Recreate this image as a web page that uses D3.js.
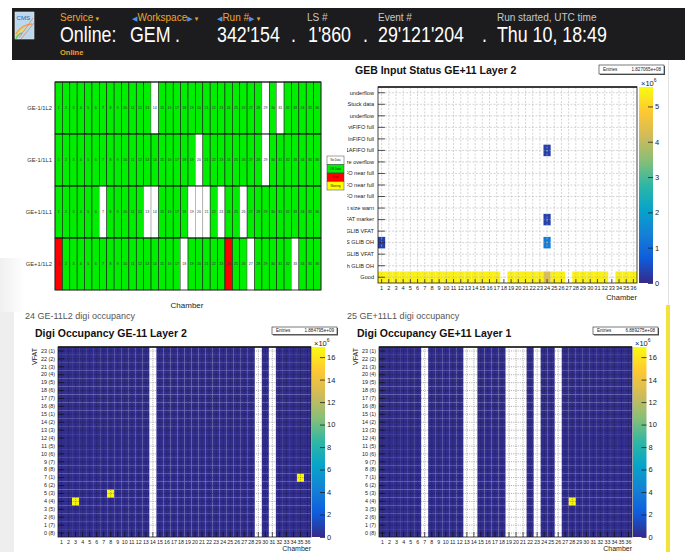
<!DOCTYPE html>
<html>
<head>
<meta charset="utf-8">
<script src="https://cdn.jsdelivr.net/npm/d3@7"></script>
<style>
  html, body { margin: 0; padding: 0; background: #fff; }
  svg { display: block; font-family: "Liberation Sans", Arial, Helvetica, sans-serif; }
</style>
</head>
<body>
<svg id="page" width="685" height="552"></svg>
<script>
// ---------------- data ----------------
const chambers = d3.range(1, 37);

// run header
const headerLabels = ["Service", "Workspace", "Run #", "LS #", "Event #", "Run started, UTC time"];
const headerValues = ["Online:", "GEM", "342'154", "1'860", "29'121'204", "Thu 10, 18:49"];

// chamber status summary: 1 = OK data, 0 = no data, 2 = error, 3 = warning
const statusRows = ["GE-1/1L2", "GE-1/1L1", "GE+1/1L1", "GE+1/1L2"];
const statusGEm11L2 = [1,1,1,1,1,1,1,1,1,1,1,1,1,0,1,1,1,1,1,1,1,1,1,1,1,1,1,1,0,1,0,1,1,1,1,1];
const statusGEm11L1 = [1,1,1,1,1,1,1,1,1,1,1,1,1,1,1,1,1,1,1,0,1,1,1,1,1,1,1,1,0,1,1,1,1,1,1,1];
const statusGEp11L1 = [1,1,1,1,1,1,0,1,1,1,1,1,0,0,1,1,1,1,0,0,0,1,0,1,1,0,1,1,1,1,1,1,1,1,1,1];
const statusGEp11L2 = [2,1,1,1,1,1,1,1,1,1,1,1,1,1,1,1,1,0,1,1,1,1,1,2,1,1,0,1,1,1,1,1,0,1,1,1];
const statusLegend = ["No Data", "OK Data", "Error", "Warning"];

// GEB input status, GE+11 layer 2 (values in units of 10^6)
const gebLabels = ["Good", "BX mismatch GLIB OH", "BX mismatch GLIB VFAT", "OOS GLIB OH", "OOS GLIB VFAT",
  "No VFAT marker", "Event size warn", "L1AFIFO near full", "InFIFO near full", "EvtFIFO near full",
  "Event size overflow", "L1AFIFO full", "InFIFO full", "EvtFIFO full", "Input FIFO underflow",
  "Stuck data", "FIFO underflow"];
const gebGood = [5.4,5.4,5.4,5.4,5.4,5.4,5.4,5.4,5.4,5.4,5.4,5.4,5.4,5.4,5.4,5.4,5.4,0,
                 5.4,5.4,5.4,5.4,5.4,4.3,5.4,5.4,0,5.4,5.4,5.4,5.4,5.4,0,5.4,5.4,5.4];
const gebErrChamber = [1, 24, 24, 24];
const gebErrStatus  = ["OOS GLIB OH", "L1AFIFO full", "No VFAT marker", "OOS GLIB OH"];
const gebErrValue   = [0.3, 0.3, 0.3, 1.3];
const gebEntries = "1.827065e+08";
const gebTicks = [0, 1, 2, 3, 4, 5];

// digi occupancy per VFAT (values in units of 10^6)
const vfatLabels = ["0 (8)","1 (7)","2 (6)","3 (5)","4 (4)","5 (3)","6 (2)","7 (1)",
                    "8 (8)","9 (7)","10 (6)","11 (5)","12 (4)","13 (3)","14 (2)","15 (1)",
                    "16 (8)","17 (7)","18 (6)","19 (5)","20 (4)","21 (3)","22 (2)","23 (1)"];
const occGEm11L2 = [0.15,0.15,0.15,0.15,0.15,0.15,0.15,0.15,0.15,0.15,0.15,0.15,0.15,0,0.15,0.15,0.15,0.15,
                    0.15,0.15,0.15,0.15,0.15,0.15,0.15,0.15,0.15,0.15,0,0.15,0,0.15,0.15,0.15,0.15,0.15];
const hotGEm11L2Chamber = [3, 8, 35];
const hotGEm11L2Vfat    = [4, 5, 7];
const hotGEm11L2Value   = [16.6, 16.6, 16.6];
const occGEp11L1 = [0.15,0.15,0.15,0.15,0.15,0.15,0,0.15,0.15,0.15,0.15,0.15,0,0,0.15,0.15,0.15,0.15,
                    0,0,0,0.15,0,0.15,0.15,0,0.15,0.15,0.15,0.15,0.15,0.15,0.15,0.15,0.15,0.15];
const hotGEp11L1Chamber = [28];
const hotGEp11L1Vfat    = [4];
const hotGEp11L1Value   = [16.6];
const occTicks = [0, 2, 4, 6, 8, 10, 12, 14, 16];
const occEntriesGEm11L2 = "1.884795e+09";
const occEntriesGEp11L1 = "6.889275e+08";

// ---------------- drawing ----------------
const W = 685, H = 552;
const svg = d3.select("#page");
const defs = svg.append("defs");

// ROOT "bird" palette
const birdStops = [0, .125, .25, .375, .5, .625, .75, .875, 1];
const birdR = [0.2082, 0.0592, 0.0780, 0.0232, 0.1802, 0.5301, 0.8186, 0.9956, 0.9764];
const birdG = [0.1664, 0.3599, 0.5041, 0.6419, 0.7178, 0.7492, 0.7328, 0.7862, 0.9832];
const birdB = [0.5293, 0.8684, 0.8385, 0.7914, 0.6425, 0.4662, 0.3499, 0.1968, 0.0539];
const birdColors = birdStops.map((s, i) => d3.rgb(birdR[i] * 255, birdG[i] * 255, birdB[i] * 255).formatHex());
const bird = d3.scaleLinear().domain(birdStops).range(birdColors).interpolate(d3.interpolateRgb).clamp(true);

const grad = defs.append("linearGradient").attr("id", "birdGrad")
  .attr("x1", 0).attr("y1", 1).attr("x2", 0).attr("y2", 0);
grad.selectAll("stop").data(birdStops).join("stop")
  .attr("offset", d => d).attr("stop-color", (d, i) => birdColors[i]);

// page side decorations
const shade = defs.append("linearGradient").attr("id", "shade").attr("x1", 0).attr("y1", 0).attr("x2", 1).attr("y2", 0);
shade.append("stop").attr("offset", 0).attr("stop-color", "#ececec");
shade.append("stop").attr("offset", 1).attr("stop-color", "#ffffff");
svg.append("rect").attr("x", 0).attr("y", 258).attr("width", 26).attr("height", 54).attr("fill", "url(#shade)").attr("opacity", 0.8);
svg.append("rect").attr("x", 0).attr("y", 312).attr("width", 14).attr("height", 240).attr("fill", "#eeeeee");
svg.append("line").attr("x1", 668.5).attr("x2", 668.5).attr("y1", 60).attr("y2", 305).attr("stroke", "#e2e2e2");
svg.append("rect").attr("x", 666).attr("y", 305).attr("width", 4).attr("height", 247).attr("fill", "#f4e23c");

// ---------- header bar ----------
const header = svg.append("g");
header.append("rect").attr("x", 12).attr("y", 8).attr("width", W - 12).attr("height", 52).attr("fill", "#1c1c1e");

const logo = header.append("g").attr("transform", "translate(15,12)");
logo.append("rect").attr("width", 19).attr("height", 27).attr("fill", "#bcd8ec").attr("stroke", "#e6e6e6").attr("stroke-width", 0.6);
logo.append("path").attr("d", "M1,22 A20,20 0 0 1 17,12").attr("fill", "none").attr("stroke", "#f0a438").attr("stroke-width", 1.6);
logo.append("path").attr("d", "M1,25 A14,14 0 0 1 12,17").attr("fill", "none").attr("stroke", "#f4dc46").attr("stroke-width", 1.6);
logo.append("path").attr("d", "M1,27 A9,9 0 0 1 7,21").attr("fill", "none").attr("stroke", "#6cc36a").attr("stroke-width", 1.6);
logo.append("path").attr("d", "M4,26 L18,6 M6,27 L19,11").attr("stroke", "#e06a50").attr("stroke-width", 0.6);
logo.append("text").attr("x", 1.5).attr("y", 7.5).attr("font-size", 6.2).attr("fill", "#2f5fb0").text("CMS");

const labelX = [60, 132, 217, 307, 378, 497];
const navigable = [false, true, true, false, false, false];
const selectable = [true, true, true, false, false, false];
headerLabels.forEach((lab, i) => {
  const t = header.append("text").attr("x", labelX[i]).attr("y", 21).attr("font-size", 10);
  if (selectable[i]) {
    if (navigable[i]) t.append("tspan").attr("fill", "#4f92e3").attr("font-size", 7).attr("font-family", "DejaVu Sans").text("\u25C0");
    t.append("tspan").attr("fill", "#eca52c").text(lab);
    if (navigable[i]) t.append("tspan").attr("fill", "#4f92e3").attr("font-size", 7).attr("font-family", "DejaVu Sans").text("\u25B6");
    t.append("tspan").attr("fill", "#eca52c").attr("font-size", 7).attr("font-family", "DejaVu Sans").text(" \u25BE");
  } else {
    t.attr("fill", "#c8c8c8").text(lab);
  }
});
// large condensed run values
const valueX = [60, 130, 217, 308, 378, 497];
headerValues.forEach((v, i) => {
  header.append("text").attr("transform", `translate(${valueX[i]},42) scale(0.81,1)`)
    .attr("font-size", 22).attr("fill", "#ffffff").text(v);
});
[175, 291, 363, 482].forEach(x => {
  header.append("text").attr("transform", `translate(${x},42) scale(0.81,1)`)
    .attr("font-size", 22).attr("fill", "#ffffff").text(".");
});
header.append("text").attr("x", 60).attr("y", 55).attr("font-size", 7.5).attr("font-weight", "bold")
  .attr("fill", "#eca52c").text("Online");

// ---------- chamber status summary ----------
const statusData = [statusGEm11L2, statusGEm11L1, statusGEp11L1, statusGEp11L2];
const statusFill = ["#ffffff", "#00ee00", "#ff0000", "#ffff00"];
const sx = d3.scaleBand().domain(chambers).range([55, 321]);
const sy = d3.scaleBand().domain(statusRows).range([82, 290]);
const statusCells = [];
statusRows.forEach((r, ri) => chambers.forEach((c, ci) => statusCells.push({ row: r, chamber: c, s: statusData[ri][ci] })));
const sg = svg.append("g");
sg.selectAll("rect").data(statusCells).join("rect")
  .attr("x", d => sx(d.chamber)).attr("y", d => sy(d.row))
  .attr("width", sx.bandwidth()).attr("height", sy.bandwidth())
  .attr("fill", d => statusFill[d.s])
  .attr("stroke", d => d.s === 0 ? "#9a9a9a" : "#1b1b1b").attr("stroke-width", 0.6);
sg.selectAll("line.rowsep").data(statusRows).join("line")
  .attr("x1", 55).attr("x2", 321).attr("y1", d => sy(d)).attr("y2", d => sy(d))
  .attr("stroke", "#111").attr("stroke-width", 0.9);
sg.append("rect").attr("x", 55).attr("y", 82).attr("width", 266).attr("height", 208)
  .attr("fill", "none").attr("stroke", "#333").attr("stroke-width", 0.8);
sg.selectAll("text.num").data(statusCells).join("text")
  .attr("x", d => sx(d.chamber) + sx.bandwidth() / 2).attr("y", d => sy(d.row) + sy.bandwidth() / 2 + 1.3)
  .attr("text-anchor", "middle").attr("font-size", 3.6).attr("fill", "#333").text(d => d.chamber);
sg.selectAll("text.row").data(statusRows).join("text")
  .attr("x", 52).attr("y", d => sy(d) + sy.bandwidth() / 2 + 2)
  .attr("text-anchor", "end").attr("font-size", 5.8).attr("fill", "#333").text(d => d);
svg.append("text").attr("x", 187).attr("y", 308).attr("text-anchor", "middle")
  .attr("font-size", 8).attr("fill", "#222").text("Chamber");

// legend
const lg = svg.append("g").attr("transform", "translate(327,156)");
lg.selectAll("rect").data(statusLegend).join("rect")
  .attr("x", 0).attr("y", (d, i) => i * 8.5).attr("width", 17).attr("height", 8.5)
  .attr("fill", (d, i) => statusFill[i]).attr("stroke", "#444").attr("stroke-width", 0.5);
lg.selectAll("text").data(statusLegend).join("text")
  .attr("x", 8.5).attr("y", (d, i) => i * 8.5 + 5.2).attr("text-anchor", "middle")
  .attr("font-size", 2.7).attr("fill", (d, i) => i === 2 ? "#600" : "#111").text(d => d);

// ---------- 2D histogram helper ----------
function statsBox(x, y, w, h, value) {
  svg.append("rect").attr("x", x + 1).attr("y", y + 1).attr("width", w).attr("height", h).attr("fill", "#555");
  svg.append("rect").attr("x", x).attr("y", y).attr("width", w).attr("height", h)
    .attr("fill", "#fff").attr("stroke", "#222").attr("stroke-width", 0.6);
  svg.append("text").attr("x", x + 4).attr("y", y + h / 2 + 1.6).attr("font-size", 4.6).attr("fill", "#222").text("Entries");
  svg.append("text").attr("x", x + w - 3).attr("y", y + h / 2 + 1.6).attr("text-anchor", "end")
    .attr("font-size", 4.6).attr("fill", "#222").text(value);
}

function hist2D(o) {
  const g = svg.append("g");
  const x = d3.scaleBand().domain(chambers).range([o.left, o.right]);
  const y = d3.scaleBand().domain(o.rows).range([o.bottom, o.top]);
  const zPix = d3.scaleLinear().domain([0, o.zMax]).range([o.bottom, o.top]);

  g.append("g").selectAll("rect").data(o.cells.filter(d => d.value > 0)).join("rect")
    .attr("x", d => x(d.chamber)).attr("y", d => y(d.row))
    .attr("width", x.bandwidth()).attr("height", y.bandwidth())
    .attr("fill", d => bird(d.value / o.zMax));

  const grid = g.append("g").attr("stroke", o.gridColor).attr("stroke-width", 0.6)
    .attr("stroke-dasharray", o.gridDash).attr("opacity", o.gridOpacity);
  grid.selectAll("line.v").data(chambers).join("line")
    .attr("x1", d => x(d) + x.bandwidth() / 2).attr("x2", d => x(d) + x.bandwidth() / 2)
    .attr("y1", o.top).attr("y2", o.bottom);
  grid.selectAll("line.h").data(o.rows).join("line")
    .attr("x1", o.left).attr("x2", o.right)
    .attr("y1", d => y(d) + y.bandwidth() / 2).attr("y2", d => y(d) + y.bandwidth() / 2);

  const ax = g.append("g").attr("transform", `translate(0,${o.bottom})`)
    .call(d3.axisBottom(x).tickSize(-o.xTick).tickPadding(o.xPad));
  ax.select(".domain").remove();
  ax.selectAll("line").attr("stroke", "#111").attr("stroke-width", 0.7);
  ax.selectAll("text").attr("font-size", o.xFont).attr("fill", "#222");
  ax.attr("font-family", null).attr("font-size", null);

  // y axis; long bin labels run past the left edge of the panel and get cut there
  const yWrap = g.append("g");
  const ay = yWrap.append("g").attr("transform", `translate(${o.left},0)`)
    .call(d3.axisLeft(y).tickSize(-o.yTick).tickPadding(o.yPad));
  ay.select(".domain").remove();
  ay.selectAll("line").attr("stroke", "#111").attr("stroke-width", 0.7);
  ay.selectAll("text").attr("font-size", o.yFont).attr("fill", "#222");
  ay.attr("font-family", null).attr("font-size", null);
  if (o.clipX !== undefined) {
    const avail = o.left - o.yPad - o.clipX + 2.5;
    ay.selectAll(".tick text").each(function () {
      const t = d3.select(this);
      let s = t.text();
      while (this.getComputedTextLength() > avail && s.length > 1) {
        s = s.slice(1);
        t.text(s);
      }
    });
    const id = "clip" + Math.round(o.left);
    defs.append("clipPath").attr("id", id).append("rect")
      .attr("x", o.clipX).attr("y", o.top - 5).attr("width", o.right - o.clipX).attr("height", o.bottom - o.top + 10);
    yWrap.attr("clip-path", `url(#${id})`);
  }

  g.append("rect").attr("x", o.left).attr("y", o.top).attr("width", o.right - o.left).attr("height", o.bottom - o.top)
    .attr("fill", "none").attr("stroke", "#1a1a1a").attr("stroke-width", 0.8);
  g.append("line").attr("x1", o.left).attr("x2", o.right).attr("y1", o.top).attr("y2", o.top)
    .attr("stroke", "#1a1a1a").attr("stroke-width", 1.6);

  // colour bar
  g.append("rect").attr("x", o.cbX).attr("y", o.top).attr("width", o.cbW).attr("height", o.bottom - o.top)
    .attr("fill", "url(#birdGrad)");
  const az = g.append("g").attr("transform", `translate(${o.cbX + o.cbW},0)`)
    .call(d3.axisRight(zPix).tickValues(o.zTicks).tickSize(-5).tickPadding(2).tickFormat(d3.format("d")));
  az.select(".domain").remove();
  az.selectAll("line").attr("stroke", "#222").attr("stroke-width", 0.8);
  az.selectAll("text").attr("font-size", 7.5).attr("fill", "#222");
  az.attr("font-family", null).attr("font-size", null);
  const exp = g.append("text").attr("x", o.cbX + 2).attr("y", o.top - 1.5).attr("font-size", 7.5).attr("fill", "#222");
  exp.append("tspan").text("\u00d710");
  exp.append("tspan").attr("dy", -3.5).attr("font-size", 5).text("6");

  g.append("text").attr("x", o.right).attr("y", o.chamberY).attr("text-anchor", "end")
    .attr("font-size", o.chamberFont).attr("fill", "#222").text("Chamber");
  if (o.yTitle) {
    g.append("text").attr("transform", `translate(${o.yTitleX},${o.top + 1}) rotate(-90)`)
      .attr("text-anchor", "end").attr("font-size", 7).attr("fill", "#222").text(o.yTitle);
  }
  g.append("text").attr("x", o.titleX).attr("y", o.titleY).attr("font-size", 10.5)
    .attr("font-weight", "bold").attr("fill", "#111").text(o.title);
}

// GEB input status
const gebCells = [];
chambers.forEach((c, i) => gebCells.push({ chamber: c, row: "Good", value: gebGood[i] }));
gebErrChamber.forEach((c, i) => gebCells.push({ chamber: c, row: gebErrStatus[i], value: gebErrValue[i] }));
hist2D({
  left: 378, right: 637, top: 87, bottom: 283, rows: gebLabels, cells: gebCells,
  zMax: 5.55, zTicks: gebTicks, cbX: 639, cbW: 14,
  gridColor: "#b8b8b8", gridDash: "2,1.5", gridOpacity: 1,
  xTick: 4, xPad: 3, xFont: 5.6, yTick: 7, yPad: 4, yFont: 5.6, clipX: 347,
  chamberY: 300, chamberFont: 7.5, title: "GEB Input Status GE+11 Layer 2", titleX: 355, titleY: 74
});
statsBox(599, 65, 65, 9, gebEntries);

// digi occupancy panels
function occCells(base, hotC, hotV, hotVal) {
  const cells = [];
  chambers.forEach((c, ci) => vfatLabels.forEach(v => cells.push({ chamber: c, row: v, value: base[ci] })));
  hotC.forEach((c, i) => {
    const cell = cells.find(d => d.chamber === c && d.row === vfatLabels[hotV[i]]);
    cell.value = hotVal[i];
  });
  return cells;
}
svg.append("text").attr("x", 25).attr("y", 319).attr("font-size", 9).attr("fill", "#555").text("24 GE-11L2 digi occupancy");
hist2D({
  left: 58, right: 311, top: 347, bottom: 537, rows: vfatLabels,
  cells: occCells(occGEm11L2, hotGEm11L2Chamber, hotGEm11L2Vfat, hotGEm11L2Value),
  zMax: 16.9, zTicks: occTicks, cbX: 312, cbW: 13,
  gridColor: "#000", gridDash: "1,1.2", gridOpacity: 0.55,
  xTick: 5, xPad: 3.5, xFont: 5.3, yTick: 6, yPad: 3, yFont: 5.4,
  chamberY: 551, chamberFont: 7, yTitle: "VFAT", yTitleX: 37,
  title: "Digi Occupancy GE-11 Layer 2", titleX: 35, titleY: 337
});
statsBox(272, 327, 65, 7.5, occEntriesGEm11L2);

svg.append("text").attr("x", 347).attr("y", 319).attr("font-size", 9).attr("fill", "#555").text("25 GE+11L1 digi occupancy");
hist2D({
  left: 379, right: 632, top: 347, bottom: 537, rows: vfatLabels,
  cells: occCells(occGEp11L1, hotGEp11L1Chamber, hotGEp11L1Vfat, hotGEp11L1Value),
  zMax: 16.9, zTicks: occTicks, cbX: 633, cbW: 13.5,
  gridColor: "#000", gridDash: "1,1.2", gridOpacity: 0.55,
  xTick: 5, xPad: 3.5, xFont: 5.3, yTick: 6, yPad: 3, yFont: 5.4,
  chamberY: 551, chamberFont: 7, yTitle: "VFAT", yTitleX: 358,
  title: "Digi Occupancy GE+11 Layer 1", titleX: 357, titleY: 337
});
statsBox(593, 327, 65, 7.5, occEntriesGEp11L1);
</script>
</body>
</html>
